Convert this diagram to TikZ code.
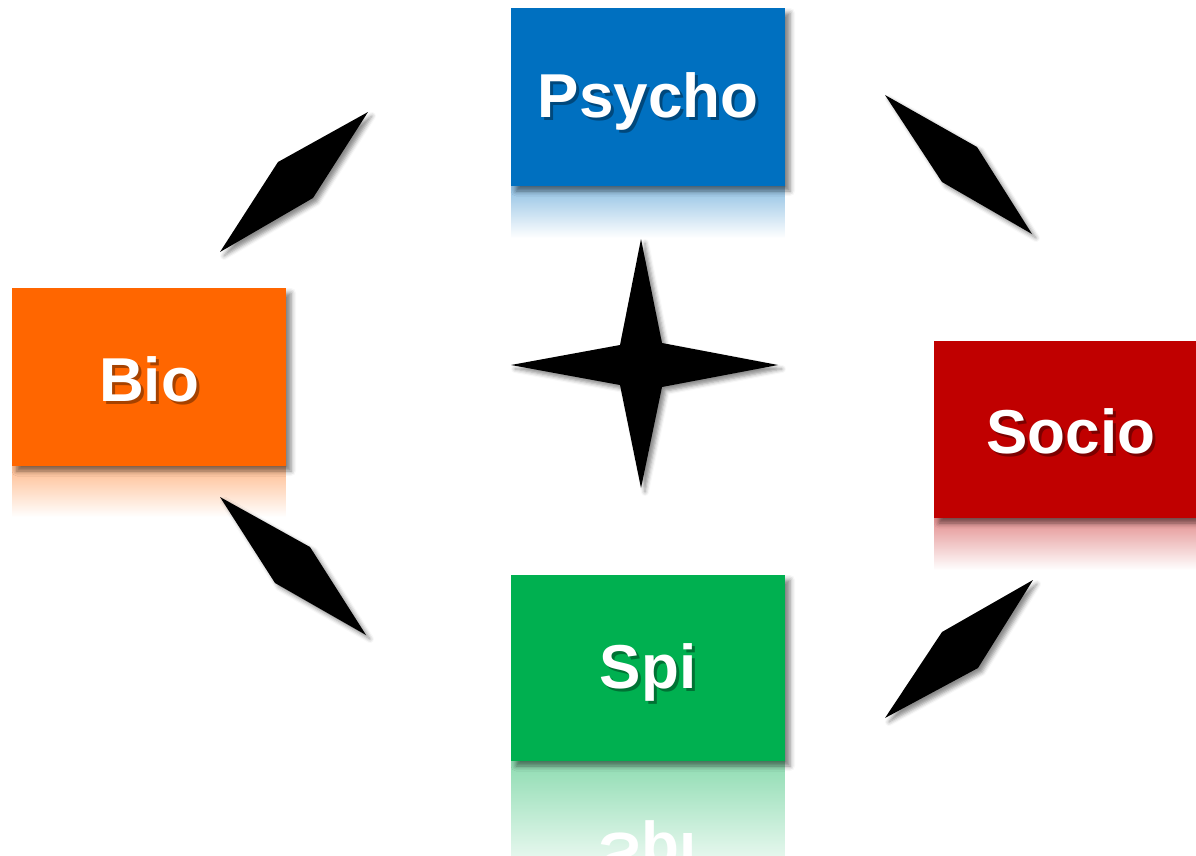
\documentclass[tikz,border=0pt]{standalone}
\usepackage{fontspec}
\setmainfont{Liberation Sans}
\usetikzlibrary{shadows.blur,fadings}

\definecolor{psyblue}{HTML}{0070C0}
\definecolor{bioorange}{HTML}{FF6600}
\definecolor{socred}{HTML}{C00000}
\definecolor{spigreen}{HTML}{00B050}

\tikzfading[name=reflfade, top color=transparent!56, bottom color=transparent!100]

\tikzset{
  box/.style={rectangle, inner sep=0pt, minimum width=274pt,
    blur shadow={shadow xshift=5pt, shadow yshift=-5pt,
      shadow blur radius=5pt, shadow opacity=50}},
  refl/.style={path fading=reflfade},
  lbl/.style={text=white, font=\fontsize{62}{70}\bfseries\selectfont},
  lblshadow/.style={text=black, opacity=0.35, font=\fontsize{62}{70}\bfseries\selectfont},
  blade/.style={fill=black,
    blur shadow={shadow xshift=4pt, shadow yshift=-4pt,
      shadow blur radius=4pt, shadow opacity=45}}
}

\begin{document}
\begin{tikzpicture}[x=1pt, y=-1pt]
\useasboundingbox (0,0) rectangle (1196,856);

% mirrored reflections below each box
\fill[psyblue, refl] (511,186) rectangle (785,238);
\fill[bioorange, refl] (12,466) rectangle (286,517);
\fill[socred, refl] (934,518) rectangle (1208,570);
\fill[spigreen, refl] (511,761) rectangle (785,885);
\node[lbl, yscale=-1, transform shape] (spimirror) at (648,850) {Spi};

% coloured boxes
\node[box, fill=psyblue, minimum height=178pt] (psycho) at (648,97) {};
\node[box, fill=bioorange, minimum height=178pt] (bio) at (149,377) {};
\node[box, fill=socred, minimum height=177pt] (socio) at (1071,429.5) {};
\node[box, fill=spigreen, minimum height=186pt] (spi) at (648,668) {};

% labels with soft shadow
\node[lblshadow] (psychosh) at ([shift={(3,7)}]psycho) {Psycho};
\node[lbl] (psychotxt) at ([shift={(0,4)}]psycho) {Psycho};
\node[lblshadow] (biosh) at ([shift={(3,5)}]bio) {Bio};
\node[lbl] (biotxt) at ([shift={(0,2)}]bio) {Bio};
\node[lblshadow] (sociosh) at ([shift={(3,5)}]socio) {Socio};
\node[lbl] (sociotxt) at ([shift={(0,2)}]socio) {Socio};
\node[lblshadow] (spish) at ([shift={(3,7)}]spi) {Spi};
\node[lbl] (spitxt) at ([shift={(0,4)}]spi) {Spi};

% lozenges between the boxes
\path[blade] (220,252) -- (278,162) -- (368,112) -- (313,198) -- cycle;
\path[blade] (885,95) -- (977,147) -- (1032,234) -- (942,182) -- cycle;
\path[blade] (220,497) -- (310,547) -- (366,635) -- (275,583) -- cycle;
\path[blade] (1033,580) -- (978,668) -- (885,718) -- (942,632) -- cycle;

% four-pointed star in the middle
\path[blade] (641,239) -- (662,343) -- (778,365) -- (662,387) -- (641,488)
  -- (620,385) -- (511,365) -- (620,345) -- cycle;
\end{tikzpicture}
\end{document}
